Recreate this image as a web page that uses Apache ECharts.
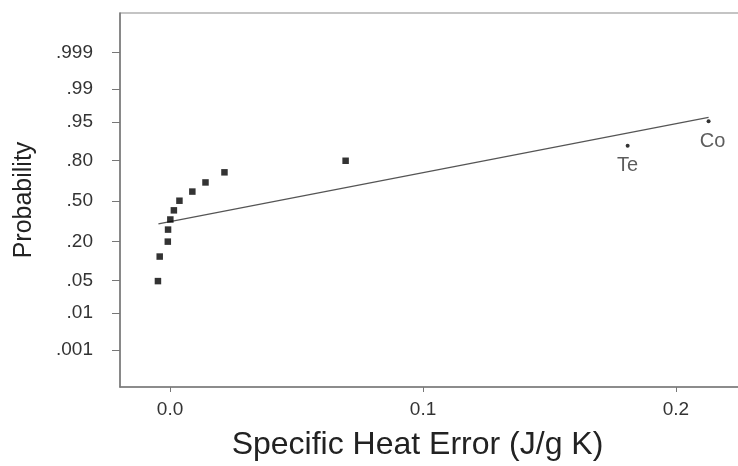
<!DOCTYPE html>
<html>
<head>
<meta charset="utf-8">
<script src="https://cdn.jsdelivr.net/npm/echarts@6/dist/echarts.min.js"></script>
<style>html,body{margin:0;padding:0;background:#fff;overflow:hidden}#c{width:745px;height:466px}</style>
</head>
<body>
<div id="c"></div>
<script>
// Probability axis drawn as normal scores (z); tick labels are probabilities
const probTickZ = [-3.09, -2.326, -1.645, -0.842, 0, 0.842, 1.645, 2.326, 3.09];
const probTickLabels = ['.001', '.01', '.05', '.20', '.50', '.80', '.95', '.99', '.999'];
const xTicks = [0.0, 0.1, 0.2];
const xTickLabels = ['0.0', '0.1', '0.2'];

// points: specific heat error and normal score
const errX = [-0.0048, -0.0041, -0.0009, -0.0008, 0.0001, 0.0015, 0.0037, 0.0088, 0.0140, 0.0215, 0.0694];
const errZ = [-1.66, -1.15, -0.84, -0.59, -0.38, -0.19, 0.01, 0.20, 0.39, 0.60, 0.84];

// labelled points
const namedX = [0.1809, 0.2129];
const namedZ = [1.15, 1.66];
const namedLabels = ['Te', 'Co'];

// fitted line endpoints
const fitX = [-0.0046, 0.2129];
const fitZ = [-0.47, 1.74];

const font = 'Liberation Sans, Arial, sans-serif';
const chart = echarts.init(document.getElementById('c'));
chart.setOption({
  animation: false,
  backgroundColor: '#fff',
  grid: { left: 120, top: 13, right: 0, bottom: 76, show: true, borderColor: '#8a8a8a', borderWidth: 1.2 },
  xAxis: {
    type: 'value', min: -0.0198, max: 0.2273,
    axisLine: { show: true, onZero: false, lineStyle: { color: '#7a7a7a', width: 1.5 } },
    axisTick: { show: true, length: 5, lineStyle: { color: '#777' }, customValues: xTicks },
    axisLabel: { color: '#333', fontSize: 19, fontFamily: font, margin: 13, customValues: xTicks,
      formatter: v => xTickLabels[xTicks.indexOf(v)] },
    splitLine: { show: false },
    name: 'Specific Heat Error (J/g K)', nameLocation: 'middle', nameGap: 42,
    nameTextStyle: { color: '#222', fontSize: 32, fontFamily: font, padding: [0, 30, 0, 0] }
  },
  yAxis: {
    type: 'value', min: -3.86, max: 3.91,
    axisLine: { show: true, onZero: false, lineStyle: { color: '#7a7a7a', width: 1.5 } },
    axisTick: { show: true, length: 8, lineStyle: { color: '#777' }, customValues: probTickZ },
    axisLabel: { color: '#333', fontSize: 19, fontFamily: font, margin: 27, customValues: probTickZ,
      formatter: v => probTickLabels[probTickZ.indexOf(v)] },
    splitLine: { show: false },
    name: 'Probability', nameLocation: 'middle', nameGap: 83, nameRotate: 90,
    nameTextStyle: { color: '#222', fontSize: 25, fontFamily: font }
  },
  series: [
    {
      type: 'line', data: fitX.map((x, i) => [x, fitZ[i]]), showSymbol: false,
      lineStyle: { color: '#555', width: 1.2 }, z: 2
    },
    {
      type: 'scatter', data: errX.map((x, i) => [x, errZ[i]]),
      symbol: 'rect', symbolSize: 6.5, itemStyle: { color: '#000' }, z: 3
    },
    {
      type: 'scatter',
      data: namedX.map((x, i) => ({ value: [x, namedZ[i]], name: namedLabels[i],
        label: { offset: i === 1 ? [4, 0] : [0, 0] } })),
      symbol: 'circle', symbolSize: 4, itemStyle: { color: '#000' }, z: 3,
      label: { show: true, position: 'bottom', distance: 8, formatter: p => p.name,
        color: '#333', fontSize: 20, fontFamily: font }
    }
  ]
});
</script>
</body>
</html>
